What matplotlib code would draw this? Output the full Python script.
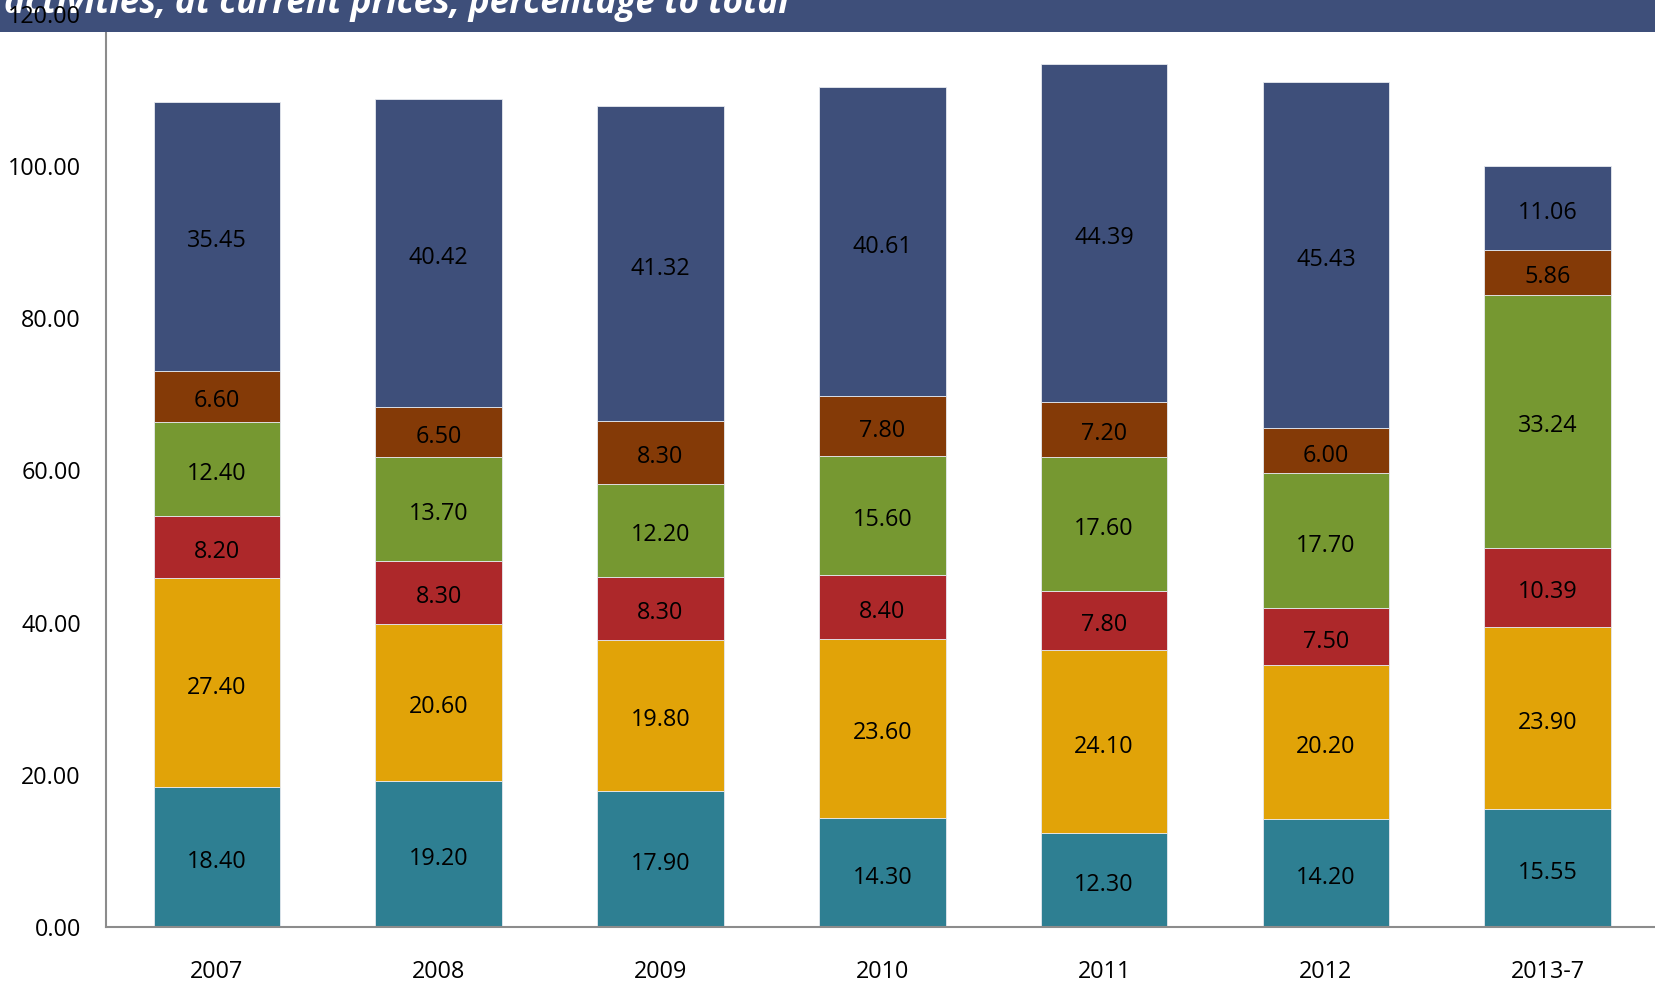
import matplotlib
matplotlib.use("Agg")
import matplotlib.pyplot as plt
from matplotlib.patches import Rectangle
from matplotlib.transforms import offset_copy
import numpy as np

plt.rcParams['font.family'] = ['Open Sans', 'DejaVu Sans']

years = ["2007", "2008", "2009", "2010", "2011", "2012", "2013-7"]

seg_teal = [18.40, 19.20, 17.90, 14.30, 12.30, 14.20, 15.55]
seg_gold = [27.40, 20.60, 19.80, 23.60, 24.10, 20.20, 23.90]
seg_red = [8.20, 8.30, 8.30, 8.40, 7.80, 7.50, 10.39]
seg_green = [12.40, 13.70, 12.20, 15.60, 17.60, 17.70, 33.24]
seg_brown = [6.60, 6.50, 8.30, 7.80, 7.20, 6.00, 5.86]
seg_navy = [35.45, 40.42, 41.32, 40.61, 44.39, 45.43, 11.06]

series = [seg_teal, seg_gold, seg_red, seg_green, seg_brown, seg_navy]
colors = ["#2E7F92", "#E1A308", "#AD282A", "#769831", "#843A07", "#3E4F7A"]

yticks = [0, 20, 40, 60, 80, 100, 120]

W, H = 1656, 985
fig = plt.figure(figsize=(W / 100, H / 100), dpi=100)
ax = fig.add_axes([106 / W, 58 / H, 1552.6 / W, 913.4 / H])

# segment labels sit with their digits centred on each segment
label_tr = offset_copy(ax.transData, fig=fig, x=0, y=-11, units="dots")

x = np.arange(len(years))
bottom = np.zeros(len(years))
for vals, col in zip(series, colors):
    vals = np.array(vals)
    ax.bar(x, vals, width=0.571, bottom=bottom, color=col,
           edgecolor="#E6E9EF", linewidth=0.6, zorder=2)
    for xi, b, v in zip(x, bottom, vals):
        ax.text(xi, b + v / 2, f"{v:.2f}", ha="center", va="baseline",
                fontsize=16.8, color="black", zorder=3, transform=label_tr)
    bottom += vals

ax.set_xlim(-0.5, len(years) - 0.5)
ax.set_ylim(0, 120)
ax.set_yticks(yticks)
ax.set_yticklabels([f"{t:.2f}" for t in yticks], fontsize=16.8)
ax.set_xticks(x)
ax.set_xticklabels(years, fontsize=16.8)
ax.tick_params(axis="y", length=0, pad=18)
ax.tick_params(axis="x", length=0, pad=24)

for side in ("top", "right"):
    ax.spines[side].set_visible(False)
for side in ("left", "bottom"):
    ax.spines[side].set_color("#8C8C8C")
    ax.spines[side].set_linewidth(1.5)

# Title banner across the top, drawn over the spine but under the tick labels
banner = Rectangle((0, 1 - 32 / H), 1, 32 / H, transform=fig.transFigure,
                   facecolor="#3E4F7A", edgecolor="none", clip_on=False,
                   zorder=2.6)
ax.add_artist(banner)
ax.yaxis.set_zorder(3)

title = ax.text(4 / W, 1 - 13 / H,
                "activities, at current prices, percentage to total",
                transform=fig.transFigure, ha="left", va="baseline",
                fontsize=22, fontweight="bold", fontstyle="italic",
                color="white", zorder=2.7, clip_on=False)

# scale the title so the line spans its intended width
renderer = fig.canvas.get_renderer()
width_px = title.get_window_extent(renderer).width
title.set_fontsize(22 * 782 / width_px)

fig.savefig("out.png", dpi=100)
